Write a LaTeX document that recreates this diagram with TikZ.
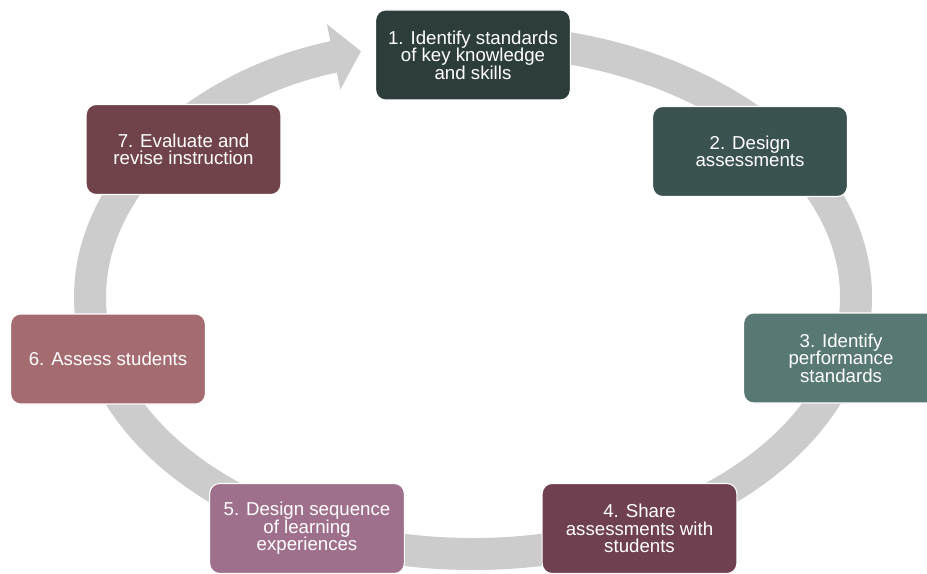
\documentclass[tikz,border=0pt]{standalone}
\usepackage{fontspec}
\setmainfont{Liberation Sans}
\usetikzlibrary{arrows.meta, positioning}
\definecolor{ringgray}{HTML}{CBCCCB}
\definecolor{colA}{HTML}{2D3D3B}
\definecolor{colB}{HTML}{3A5250}
\definecolor{colC}{HTML}{587874}
\definecolor{colD}{HTML}{6F404F}
\definecolor{colE}{HTML}{9F708B}
\definecolor{colF}{HTML}{A46C70}
\definecolor{colG}{HTML}{70434A}

\begin{document}
\begin{tikzpicture}[x=0.75pt, y=-0.75pt,
  stepbox/.style={rounded corners=7.5pt, draw=white, line width=0.8pt, text=white,
    minimum width=146pt, minimum height=67.5pt, inner sep=0pt, align=center,
    font=\fontsize{14}{13.2}\selectfont},
  ring/.style={ringgray, line width=24pt}]
\clip (0,0) rectangle (927,574);
\coordinate (O) at (473,297);
\coordinate (ringtop) at (473,40);
\draw[ring, -{Triangle[length=21pt, width=49pt]}] (ringtop) arc[start angle=-90, end angle=253, x radius=383, y radius=257];
\node[stepbox, fill=colA] (S1) at (473,55) {1. Identify standards\\of key knowledge\\and skills};
\node[stepbox, fill=colB] (S2) at (750,151.5) {2. Design\\assessments};
\node[stepbox, fill=colC] (S3) at (841,358) {3. Identify\\performance\\standards};
\node[stepbox, fill=colD] (S4) at (639.5,528.5) {4. Share\\assessments with\\students};
\node[stepbox, fill=colE] (S5) at (307,528.5) {5. Design sequence\\of learning\\experiences};
\node[stepbox, fill=colF] (S6) at (108,359) {6. Assess students};
\node[stepbox, fill=colG] (S7) at (183.5,149.5) {7. Evaluate and\\revise instruction};
\end{tikzpicture}
\end{document}
